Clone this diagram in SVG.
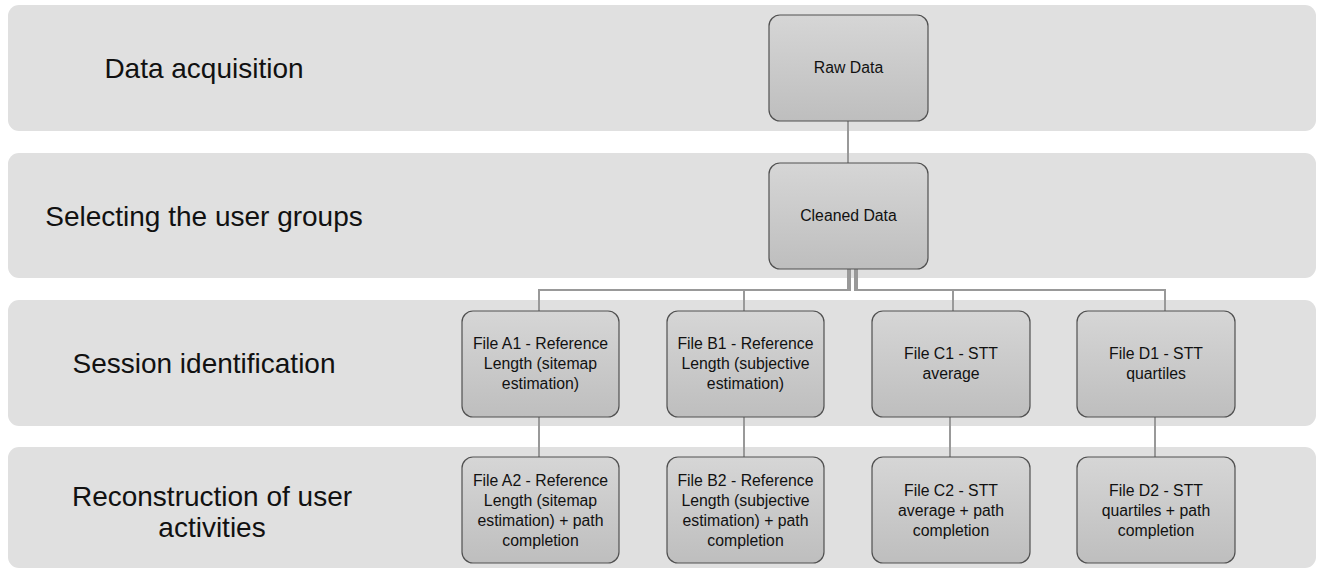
<svg xmlns="http://www.w3.org/2000/svg" width="1324" height="570" viewBox="0 0 1324 570">
<defs>
<linearGradient id="g" x1="0" y1="0" x2="0" y2="1">
<stop offset="0" stop-color="#d6d6d6"/>
<stop offset="1" stop-color="#bebebe"/>
</linearGradient>
<style>
.band{fill:#e0e0e0}
.node{fill:url(#g);stroke:#505050;stroke-width:1.2}
.lbl{font-family:"Liberation Sans",Arial,sans-serif;font-size:28px;fill:#111;text-anchor:middle}
.t{font-family:"Liberation Sans",Arial,sans-serif;font-size:15.8px;fill:#111;text-anchor:middle}
.c{fill:none;stroke:#999;stroke-width:2}
</style>
</defs>
<g id="bands">
<rect class="band" x="8" y="5" width="1308" height="126" rx="11"/>
<rect class="band" x="8" y="153" width="1308" height="125" rx="11"/>
<rect class="band" x="8" y="300" width="1308" height="126" rx="11"/>
<rect class="band" x="8" y="447" width="1308" height="121" rx="11"/>
</g>
<g id="labels">
<text class="lbl" x="204" y="78">Data acquisition</text>
<text class="lbl" x="204" y="226">Selecting the user groups</text>
<text class="lbl" x="204" y="373">Session identification</text>
<text class="lbl" x="212" y="506">Reconstruction of user</text>
<text class="lbl" x="212" y="537">activities</text>
</g>
<g id="connectors">
<path class="c" d="M848 121V163"/>
<path class="c" d="M848 269V290H539V311"/>
<path class="c" d="M850 269V290H744V311"/>
<path class="c" d="M855 269V290H953V311"/>
<path class="c" d="M857 269V290H1165V311"/>
<path class="c" d="M539 417V457"/>
<path class="c" d="M744 417V457"/>
<path class="c" d="M950 417V457"/>
<path class="c" d="M1155 417V457"/>
</g>
<g id="raw"><rect class="node" x="769" y="15" width="159" height="106" rx="11"/><text class="t" x="848.5" y="73">Raw Data</text></g>
<g id="cleaned"><rect class="node" x="769" y="163" width="159" height="106" rx="11"/><text class="t" x="848.5" y="221">Cleaned Data</text></g>
<g id="a1"><rect class="node" x="462" y="311" width="157" height="106" rx="11"/><text class="t" x="540.5" y="349">File A1 - Reference</text><text class="t" x="540.5" y="369">Length (sitemap</text><text class="t" x="540.5" y="389">estimation)</text></g>
<g id="b1"><rect class="node" x="667" y="311" width="157" height="106" rx="11"/><text class="t" x="745.5" y="349">File B1 - Reference</text><text class="t" x="745.5" y="369">Length (subjective</text><text class="t" x="745.5" y="389">estimation)</text></g>
<g id="c1"><rect class="node" x="872" y="311" width="158" height="106" rx="11"/><text class="t" x="951" y="359">File C1 - STT</text><text class="t" x="951" y="379">average</text></g>
<g id="d1"><rect class="node" x="1077" y="311" width="158" height="106" rx="11"/><text class="t" x="1156" y="359">File D1 - STT</text><text class="t" x="1156" y="379">quartiles</text></g>
<g id="a2"><rect class="node" x="462" y="457" width="157" height="106" rx="11"/><text class="t" x="540.5" y="486">File A2 - Reference</text><text class="t" x="540.5" y="506">Length (sitemap</text><text class="t" x="540.5" y="526">estimation) + path</text><text class="t" x="540.5" y="546">completion</text></g>
<g id="b2"><rect class="node" x="667" y="457" width="157" height="106" rx="11"/><text class="t" x="745.5" y="486">File B2 - Reference</text><text class="t" x="745.5" y="506">Length (subjective</text><text class="t" x="745.5" y="526">estimation) + path</text><text class="t" x="745.5" y="546">completion</text></g>
<g id="c2"><rect class="node" x="872" y="457" width="158" height="106" rx="11"/><text class="t" x="951" y="496">File C2 - STT</text><text class="t" x="951" y="516">average + path</text><text class="t" x="951" y="536">completion</text></g>
<g id="d2"><rect class="node" x="1077" y="457" width="158" height="106" rx="11"/><text class="t" x="1156" y="496">File D2 - STT</text><text class="t" x="1156" y="516">quartiles + path</text><text class="t" x="1156" y="536">completion</text></g>
</svg>
